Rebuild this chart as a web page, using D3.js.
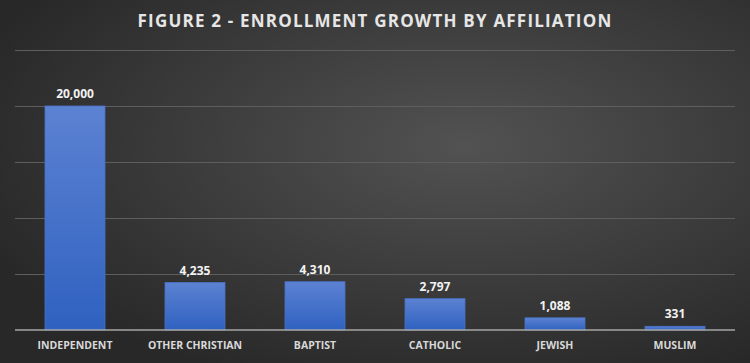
<!DOCTYPE html>
<html><head><meta charset="utf-8">
<script src="https://cdn.jsdelivr.net/npm/d3@7"></script>
<style>html,body{margin:0;padding:0;background:#2b2b2b;}svg{display:block;}</style>
</head><body>
<script>
const categories = ["INDEPENDENT","OTHER CHRISTIAN","BAPTIST","CATHOLIC","JEWISH","MUSLIM"];
const values = [20000,4235,4310,2797,1088,331];
const gridTicks = [0,5000,10000,15000,20000,25000];
const title = "FIGURE 2 - ENROLLMENT GROWTH BY AFFILIATION";

const W=750,H=363;
const m={left:15,right:15,top:50,bottom:33};
const svg=d3.select("body").append("svg").attr("width",W).attr("height",H);
const defs=svg.append("defs");
const bg=defs.append("radialGradient").attr("id","bg").attr("cx","62%").attr("cy","40%").attr("r","70%");
bg.append("stop").attr("offset","0%").attr("stop-color","#525252");
bg.append("stop").attr("offset","100%").attr("stop-color","#282828");
const bar=defs.append("linearGradient").attr("id","bar").attr("x1",0).attr("y1",0).attr("x2",0).attr("y2",1);
bar.append("stop").attr("offset","0%").attr("stop-color","#5c82d2");
bar.append("stop").attr("offset","100%").attr("stop-color","#2f61c0");
svg.append("rect").attr("width",W).attr("height",H).attr("fill","url(#bg)");

const x=d3.scaleBand().domain(categories).range([m.left,W-m.right]).paddingInner(0.5).paddingOuter(0.25);
const y=d3.scaleLinear().domain([0,25000]).range([H-m.bottom,m.top]);

svg.append("g").selectAll("line").data(gridTicks.slice(1)).join("line")
  .attr("x1",m.left).attr("x2",W-m.right).attr("y1",d=>Math.round(y(d))+0.5).attr("y2",d=>Math.round(y(d))+0.5)
  .attr("stroke","#5e5e5e").attr("stroke-width",1);

svg.append("g").selectAll("rect").data(values).join("rect")
  .attr("x",(d,i)=>x(categories[i])).attr("width",x.bandwidth())
  .attr("y",d=>y(d)).attr("height",d=>y(0)-y(d))
  .attr("fill","url(#bar)").attr("stroke","#4a72c8").attr("stroke-width",0.8);

svg.append("line").attr("x1",m.left).attr("x2",W-m.right).attr("y1",y(0)).attr("y2",y(0))
  .attr("stroke","#a6a6a6").attr("stroke-width",1.5);

svg.append("g").selectAll("text").data(values).join("text")
  .attr("x",(d,i)=>x(categories[i])+x.bandwidth()/2).attr("y",d=>y(d)-8)
  .attr("text-anchor","middle").attr("font-family","Open Sans, sans-serif").attr("font-weight","bold")
  .attr("font-size",12).attr("fill","#f2f2f2").text(d=>d3.format(",")(d));

const xAxis=svg.append("g").attr("transform",`translate(0,${y(0)})`).call(d3.axisBottom(x).tickSize(0).tickPadding(12));
xAxis.select(".domain").remove();
xAxis.selectAll("text").attr("font-family","Open Sans, sans-serif").attr("font-weight","bold")
  .attr("font-size",10.5).attr("fill","#d9d9d9");

svg.append("text").attr("x",W/2).attr("y",27).attr("text-anchor","middle")
  .attr("font-family","Open Sans, sans-serif").attr("font-weight","bold").attr("font-size",17)
  .attr("letter-spacing",1.2).attr("fill","#e6e6e6").text(title);
</script>
</body></html>
